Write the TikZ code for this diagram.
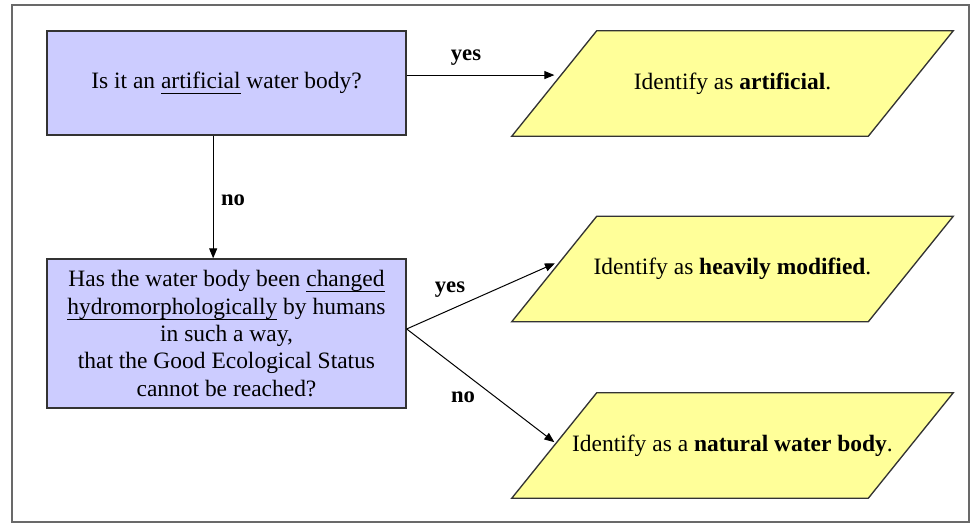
\documentclass[tikz,border=0pt]{standalone}
\usepackage{fontspec}
\setmainfont{Liberation Serif}
\usepackage{tikz}
\usetikzlibrary{arrows.meta,backgrounds,calc,positioning}
\definecolor{qfill}{RGB}{204,204,255}
\definecolor{afill}{RGB}{255,255,153}
\definecolor{framegray}{RGB}{105,105,105}
\newcommand{\ulword}[1]{\mbox{\setbox0\hbox{#1}\rlap{\rule[-4.2pt]{\wd0}{0.8pt}}\box0}}

\begin{document}
\begin{tikzpicture}[x=0.75pt,y=-0.75pt,
    every node/.style={font=\fontsize{17.6pt}{20.6pt}\selectfont},
    question/.style={draw=black!80,fill=qfill,line width=1pt,minimum width=269.25pt,align=center},
    answer/.style={minimum width=330.75pt,minimum height=78.75pt},
    answerbox/.style={draw=black!80,fill=afill,line width=1pt,line join=miter},
    lbl/.style={font=\fontsize{17pt}{20pt}\selectfont\bfseries,inner sep=0pt},
    arr/.style={-{Triangle[length=7.5pt,width=6pt]},line width=0.75pt}]
  \useasboundingbox (0,0) rectangle (974,524);
  \draw[framegray,line width=1.5pt] (12,5) rectangle (969,522);
  \node[question,minimum height=78pt] (box1) at (226.5,83) {Is it an \ulword{artificial} water body?};
  \node[question,minimum height=111.75pt] (box2) at (226.5,333.5)
    {Has the water body been \ulword{changed}\\
     \ulword{hydromorphologically} by humans\\
     in such a way,\\
     that the Good Ecological Status\\
     cannot be reached?};
  \node[answer] (para1) at (732.5,83.5) {Identify as \textbf{artificial}.};
  \node[answer] (para2) at (732.5,269) {Identify as \textbf{heavily modified}.};
  \node[answer] (para3) at (732.5,445.5) {Identify as a \textbf{natural water body}.};
  % slanted outlines behind the answer texts
  \begin{scope}[on background layer]
    \foreach \p in {para1,para2,para3}
      \draw[answerbox] (\p.south west) -- ([xshift=63.75pt]\p.north west) -- (\p.north east)
        -- ([xshift=-63.75pt]\p.south east) -- cycle;
  \end{scope}
  \coordinate (in1) at ($(para1.south west)!0.58!([xshift=63.75pt]para1.north west)$);
  \coordinate (in2) at ($(para2.south west)!0.58!([xshift=63.75pt]para2.north west)$);
  \coordinate (in3) at ($(para3.south west)!0.52!([xshift=63.75pt]para3.north west)$);
  \coordinate (fork) at ([yshift=3.4pt]box2.east);
  \draw[arr,shorten >=5pt] (box1.east |- in1) -- (in1);
  \draw[arr] ([xshift=-10pt]box1.south) -- ([xshift=-10pt]box1.south |- box2.north);
  \draw[arr,shorten >=5pt] (fork) -- (in2);
  \draw[arr,shorten >=1.5pt] (fork) -- (in3);
  \node[lbl] (yes1) at (466,58) {yes};
  \node[lbl] (no1) at (233,200) {no};
  \node[lbl] (yes2) at (450,290) {yes};
  \node[lbl] (no2) at (463,397) {no};
\end{tikzpicture}
\end{document}
